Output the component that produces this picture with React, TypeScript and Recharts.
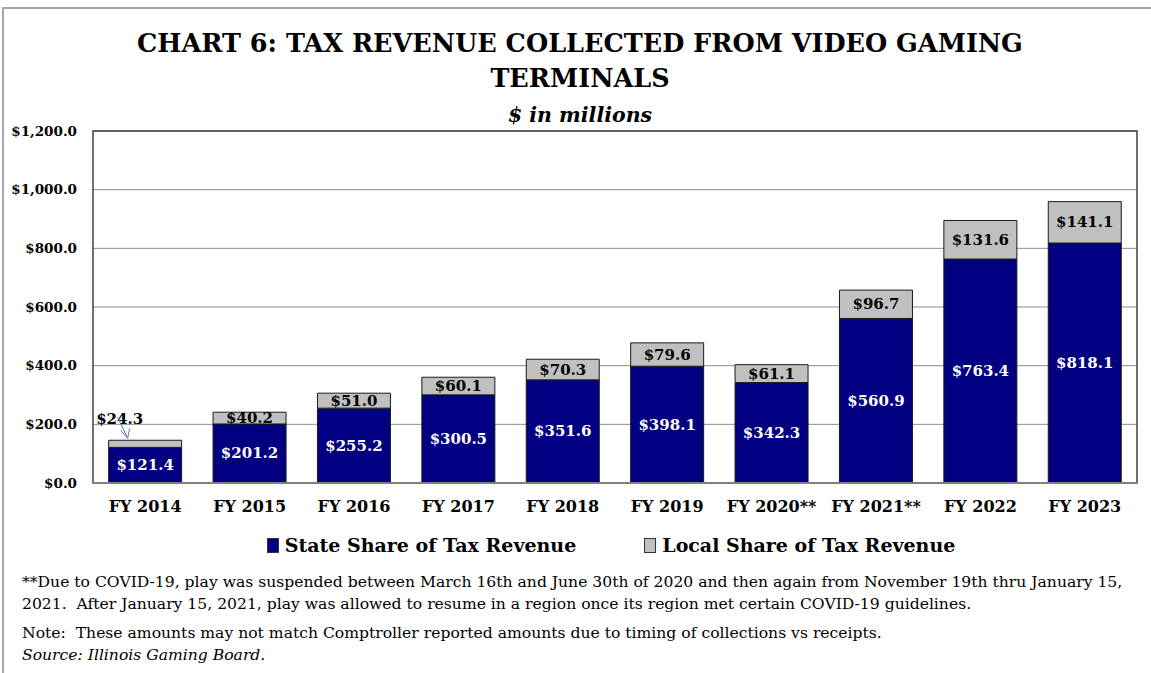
import {
  BarChart,
  Bar,
  XAxis,
  YAxis,
  CartesianGrid,
  Legend,
  LabelList,
  ReferenceArea,
} from "recharts";

const years = [
  "FY 2014",
  "FY 2015",
  "FY 2016",
  "FY 2017",
  "FY 2018",
  "FY 2019",
  "FY 2020**",
  "FY 2021**",
  "FY 2022",
  "FY 2023",
];
const stateShare = [121.4, 201.2, 255.2, 300.5, 351.6, 398.1, 342.3, 560.9, 763.4, 818.1];
const localShare = [24.3, 40.2, 51.0, 60.1, 70.3, 79.6, 61.1, 96.7, 131.6, 141.1];
const yTicks = [0, 200, 400, 600, 800, 1000, 1200];
const seriesNames = ["State Share of Tax Revenue", "Local Share of Tax Revenue"];

const data = years.map((year, i) => ({
  year,
  state: stateShare[i],
  local: localShare[i],
}));

const FONT = "'DejaVu Serif', serif";
const NAVY = "#000080";
const GREY = "#c0c0c0";

const money = (v: number) =>
  "$" + v.toLocaleString("en-US", { minimumFractionDigits: 1, maximumFractionDigits: 1 });

function renderStateLabel(props: any) {
  const { x, y, width, height, value } = props;
  return (
    <text
      x={x + width / 2}
      y={y + height / 2}
      textAnchor="middle"
      dominantBaseline="central"
      fill="#ffffff"
      fontFamily={FONT}
      fontWeight="bold"
      fontSize={15}
    >
      {money(value)}
    </text>
  );
}

// first bar is too thin for its label, so it sits above with a pointer
function renderLocalLabel(props: any) {
  const { x, y, width, height, value, index } = props;
  if (index === 0) {
    const ex = x + 19;
    const ey = y - 2;
    return (
      <g>
        <text
          x={x + 11}
          y={y - 21}
          textAnchor="middle"
          dominantBaseline="central"
          fill="#000"
          fontFamily={FONT}
          fontWeight="bold"
          fontSize={15}
        >
          {money(value)}
        </text>
        <line x1={x + 9} y1={y - 23} x2={ex} y2={ey} stroke="#4f81bd" strokeWidth={1} />
        <polyline
          points={`${ex - 7},${ey - 8} ${ex},${ey} ${ex + 2},${ey - 10}`}
          fill="none"
          stroke="#4f81bd"
          strokeWidth={1}
        />
      </g>
    );
  }
  return (
    <text
      x={x + width / 2}
      y={y + height / 2}
      textAnchor="middle"
      dominantBaseline="central"
      fill="#000"
      fontFamily={FONT}
      fontWeight="bold"
      fontSize={15}
    >
      {money(value)}
    </text>
  );
}

function renderLegend(props: any) {
  const items = [...(props.payload || [])].sort(
    (a: any, b: any) => seriesNames.indexOf(a.value) - seriesNames.indexOf(b.value)
  );
  return (
    <div style={{ display: "flex", justifyContent: "center", gap: 68, paddingLeft: 71 }}>
      {items.map((item: any) => (
        <div key={item.value} style={{ display: "flex", alignItems: "center" }}>
          <span
            style={{
              display: "inline-block",
              width: 10,
              height: 13,
              background: item.color,
              border: "1px solid #333",
              marginRight: 6,
            }}
          />
          <span style={{ fontFamily: FONT, fontWeight: "bold", fontSize: 19, color: "#000" }}>
            {item.value}
          </span>
        </div>
      ))}
    </div>
  );
}

export default function App() {
  return (
    <div
      style={{
        position: "absolute",
        left: 0,
        top: 0,
        width: 1151,
        height: 673,
        background: "#fff",
        overflow: "hidden",
      }}
    >
      {/* outer frame */}
      <div
        style={{
          position: "absolute",
          left: 2,
          top: 7,
          width: 1160,
          height: 700,
          borderLeft: "2px solid #a6a6a6",
          borderTop: "2px solid #a6a6a6",
        }}
      />

      {/* Title */}
      <div
        style={{
          position: "absolute",
          left: 0,
          top: 26,
          width: 1160,
          textAlign: "center",
          fontFamily: FONT,
          fontWeight: "bold",
          fontSize: 25.5,
          lineHeight: "35px",
          color: "#000",
        }}
      >
        CHART 6: TAX REVENUE COLLECTED FROM VIDEO GAMING
        <br />
        TERMINALS
      </div>
      <div
        style={{
          position: "absolute",
          left: 0,
          top: 103,
          width: 1160,
          textAlign: "center",
          fontFamily: FONT,
          fontWeight: "bold",
          fontStyle: "italic",
          fontSize: 20.5,
          color: "#000",
        }}
      >
        $ in millions
      </div>

      <div style={{ position: "absolute", left: 0, top: 0 }}>
        <BarChart
          width={1151}
          height={673}
          data={data}
          margin={{ top: 131, right: 14, left: 0, bottom: 138 }}
          barCategoryGap="15%"
        >
          <CartesianGrid vertical={false} stroke="#8c8c8c" strokeWidth={1} />
          <XAxis
            dataKey="year"
            height={30}
            axisLine={{ stroke: "#7f7f7f", strokeWidth: 2 }}
            tickLine={false}
            tickMargin={12}
            tick={{ fill: "#000", fontFamily: FONT, fontWeight: "bold", fontSize: 16 }}
          />
          <YAxis
            width={93}
            domain={[0, 1200]}
            ticks={yTicks}
            interval={0}
            axisLine={false}
            tickLine={false}
            tickMargin={10}
            tickFormatter={(v: number) => money(v)}
            tick={{ fill: "#000", fontFamily: FONT, fontWeight: "bold", fontSize: 13.5 }}
          />
          <Legend
            verticalAlign="bottom"
            content={renderLegend}
            wrapperStyle={{ top: 534, left: 0, width: 1151 }}
          />
          <Bar
            dataKey="state"
            name={seriesNames[0]}
            stackId="a"
            fill={NAVY}
            stroke="#1a1a1a"
            strokeWidth={1}
            isAnimationActive={false}
          >
            <LabelList dataKey="state" content={renderStateLabel} />
          </Bar>
          <Bar
            dataKey="local"
            name={seriesNames[1]}
            stackId="a"
            fill={GREY}
            stroke="#1a1a1a"
            strokeWidth={1}
            isAnimationActive={false}
          >
            <LabelList dataKey="local" content={renderLocalLabel} />
          </Bar>
          <ReferenceArea y1={0} y2={1200} fill="none" stroke="#404040" strokeWidth={1.5} />
        </BarChart>
      </div>

      {/* Notes */}
      <div
        style={{
          position: "absolute",
          left: 22,
          top: 571,
          width: 1130,
          fontFamily: FONT,
          fontSize: 15.6,
          lineHeight: "22px",
          color: "#000",
          whiteSpace: "nowrap",
        }}
      >
        <div>
          **Due to COVID-19, play was suspended between March 16th and June 30th of 2020 and then
          again from November 19th thru January 15,
          <br />
          2021.&nbsp; After January 15, 2021, play was allowed to resume in a region once its region
          met certain COVID-19 guidelines.
        </div>
        <div style={{ marginTop: 7 }}>
          Note:&nbsp; These amounts may not match Comptroller reported amounts due to timing of
          collections vs receipts.
        </div>
        <div style={{ fontStyle: "italic" }}>Source: Illinois Gaming Board.</div>
      </div>
    </div>
  );
}
